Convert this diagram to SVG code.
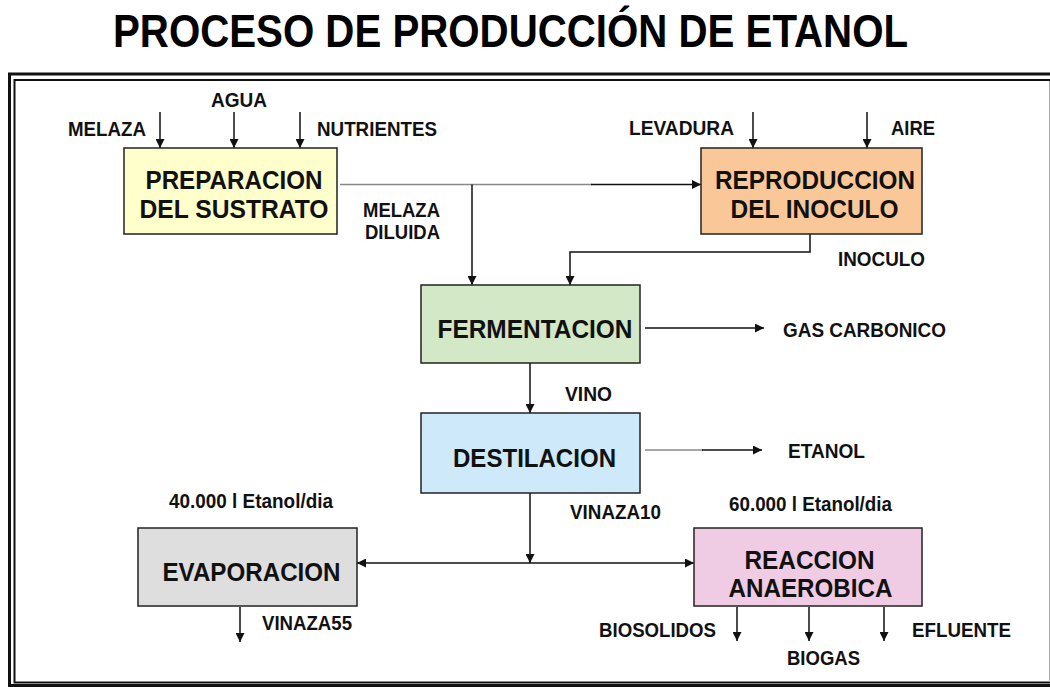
<svg xmlns="http://www.w3.org/2000/svg" width="1050" height="687" viewBox="0 0 1050 687">
<defs>
<marker id="ah" markerUnits="userSpaceOnUse" markerWidth="9" markerHeight="9" refX="9" refY="4.5" orient="auto">
<path d="M0,0 L9,4.5 L0,9 z" fill="#111"/>
</marker>
</defs>
<style>
.box{stroke:#222;stroke-width:1.5}
.nt{font-family:"Liberation Sans",Arial,sans-serif;font-weight:bold;font-size:25px;fill:#111;text-anchor:middle}
.lb{font-family:"Liberation Sans",Arial,sans-serif;font-weight:bold;font-size:19.5px;fill:#111}
.ln{fill:none;stroke:#111;stroke-width:1.5}
.gr{fill:none;stroke:#888;stroke-width:1.5}
.ar{marker-end:url(#ah)}
</style>
<rect width="1050" height="687" fill="#fff"/>
<text x="113" y="47" font-family="'Liberation Sans',Arial,sans-serif" font-weight="bold" font-size="46" fill="#000" textLength="795" lengthAdjust="spacingAndGlyphs">PROCESO DE PRODUCCIÓN DE ETANOL</text>
<g id="frame" fill="none">
<path d="M1052,74 H9.5 V685.5 H1052" stroke="#111" stroke-width="3"/>
<path d="M1052,80 H14.5 V682.5 H1052" stroke="#111" stroke-width="2"/>
<path d="M1049.5,81 V682" stroke="#aaa" stroke-width="1"/>
</g>
<g id="connectors">
<path class="ln ar" d="M160,112 V148"/>
<path class="ln ar" d="M234,112 V148"/>
<path class="ln ar" d="M300,112 V148"/>
<path class="ln ar" d="M753,112 V148"/>
<path class="ln ar" d="M867,112 V148"/>
<path class="gr" d="M340,184.5 H592"/>
<path class="ln ar" d="M591,184.5 H701"/>
<path class="ln ar" d="M472,184.5 V285"/>
<path class="ln ar" d="M810,234 V252 H570 V285"/>
<path class="ln ar" d="M645,328 H764"/>
<path class="ln ar" d="M530,363 V413"/>
<path class="gr" d="M645,450 H703"/>
<path class="ln ar" d="M702,450 H762"/>
<path class="ln ar" d="M530,493 V563"/>
<path class="ln ar" d="M530,563 H357"/>
<path class="ln ar" d="M530,563 H694"/>
<path class="ln ar" d="M240,607 V642"/>
<path class="ln ar" d="M737,607 V641"/>
<path class="ln ar" d="M809,607 V641"/>
<path class="ln ar" d="M884,607 V641"/>
</g>
<g id="preparacion">
<rect class="box" x="124" y="148" width="213" height="86" fill="#FFFFCC"/>
<text class="nt" x="234" y="189" textLength="177" lengthAdjust="spacingAndGlyphs">PREPARACION</text>
<text class="nt" x="234" y="218" textLength="189" lengthAdjust="spacingAndGlyphs">DEL SUSTRATO</text>
</g>
<g id="reproduccion">
<rect class="box" x="701" y="148" width="221" height="86" fill="#FAC898"/>
<text class="nt" x="815" y="189" textLength="200" lengthAdjust="spacingAndGlyphs">REPRODUCCION</text>
<text class="nt" x="814.5" y="218" textLength="168" lengthAdjust="spacingAndGlyphs">DEL INOCULO</text>
</g>
<g id="fermentacion">
<rect class="box" x="421" y="285" width="219" height="78" fill="#D2E8C6"/>
<text class="nt" x="535" y="338" textLength="195" lengthAdjust="spacingAndGlyphs">FERMENTACION</text>
</g>
<g id="destilacion">
<rect class="box" x="421" y="413" width="219" height="80" fill="#CDE9FA"/>
<text class="nt" x="534.5" y="467" textLength="163" lengthAdjust="spacingAndGlyphs">DESTILACION</text>
</g>
<g id="evaporacion">
<rect class="box" x="138" y="528" width="219" height="78" fill="#DEDEDE"/>
<text class="nt" x="251.5" y="581" textLength="178" lengthAdjust="spacingAndGlyphs">EVAPORACION</text>
</g>
<g id="reaccion">
<rect class="box" x="694" y="528" width="228" height="78" fill="#EFCCE3"/>
<text class="nt" x="809.5" y="569" textLength="130" lengthAdjust="spacingAndGlyphs">REACCION</text>
<text class="nt" x="810.5" y="597" textLength="164" lengthAdjust="spacingAndGlyphs">ANAEROBICA</text>
</g>
<g id="labels">
<text class="lb" x="68" y="136" textLength="78" lengthAdjust="spacingAndGlyphs">MELAZA</text>
<text class="lb" x="211" y="107" textLength="56" lengthAdjust="spacingAndGlyphs">AGUA</text>
<text class="lb" x="317" y="136" textLength="120" lengthAdjust="spacingAndGlyphs">NUTRIENTES</text>
<text class="lb" x="629" y="135" textLength="105" lengthAdjust="spacingAndGlyphs">LEVADURA</text>
<text class="lb" x="891" y="135" textLength="44" lengthAdjust="spacingAndGlyphs">AIRE</text>
<text class="lb" x="363" y="217" textLength="77" lengthAdjust="spacingAndGlyphs">MELAZA</text>
<text class="lb" x="365" y="239" textLength="75" lengthAdjust="spacingAndGlyphs">DILUIDA</text>
<text class="lb" x="838" y="266" textLength="87" lengthAdjust="spacingAndGlyphs">INOCULO</text>
<text class="lb" x="783" y="337" textLength="163" lengthAdjust="spacingAndGlyphs">GAS CARBONICO</text>
<text class="lb" x="565" y="401" textLength="47" lengthAdjust="spacingAndGlyphs">VINO</text>
<text class="lb" x="788" y="458" textLength="77" lengthAdjust="spacingAndGlyphs">ETANOL</text>
<text class="lb" x="169" y="508" textLength="164" lengthAdjust="spacingAndGlyphs">40.000 l Etanol/dia</text>
<text class="lb" x="570" y="519" textLength="91" lengthAdjust="spacingAndGlyphs">VINAZA10</text>
<text class="lb" x="729" y="511" textLength="163" lengthAdjust="spacingAndGlyphs">60.000 l Etanol/dia</text>
<text class="lb" x="262" y="630" textLength="90" lengthAdjust="spacingAndGlyphs">VINAZA55</text>
<text class="lb" x="599" y="637" textLength="117" lengthAdjust="spacingAndGlyphs">BIOSOLIDOS</text>
<text class="lb" x="912" y="637" textLength="99" lengthAdjust="spacingAndGlyphs">EFLUENTE</text>
<text class="lb" x="787" y="665" textLength="73" lengthAdjust="spacingAndGlyphs">BIOGAS</text>
</g>
</svg>
